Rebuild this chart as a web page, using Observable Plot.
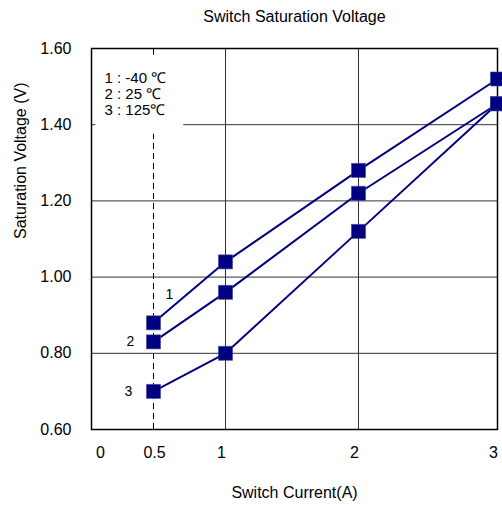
<!DOCTYPE html>
<html><head><meta charset="utf-8">
<script src="https://cdn.jsdelivr.net/npm/d3@7"></script>
<script src="https://cdn.jsdelivr.net/npm/@observablehq/plot@0.6"></script>
<style>body{margin:0;background:#fff} svg{display:block}</style>
</head><body><div id="chart"></div>
<script>
const currents = [0.5, 1, 2, 3];
const series1 = [0.88, 1.04, 1.28, 1.52];
const series2 = [0.83, 0.96, 1.22, 1.455];
const series3 = [0.70, 0.80, 1.12, 1.455];
const seriesNames = ["1", "2", "3"];
const legendLines = ["1 : -40 ℃", "2 : 25 ℃", "3 : 125℃"];
const xTicks = [0, 0.5, 1, 2, 3];
const yTicks = [0.6, 0.8, 1.0, 1.2, 1.4, 1.6];
const gridY = [0.8, 1.0, 1.2, 1.4];
const gridX = [1, 2];
const title = "Switch Saturation Voltage";
const xLabel = "Switch Current(A)";
const yLabel = "Saturation Voltage (V)";

const data = [series1, series2, series3].flatMap((vals, i) =>
  vals.map((v, j) => ({series: seriesNames[i], x: currents[j], y: v})));
const firsts = seriesNames.map(s => data.find(d => d.series === s && d.x === currents[0]));
const labelOffsets = [[16, -28], [-23, 0], [-25, 0]];
const navy = "#000080";
const grid = "#333";

// the reference's x axis is piecewise (non-uniform spacing between ticks)
const xWarp = d3.scaleLinear().domain(xTicks).range([0, 62, 134, 267, 406]);

const chart = Plot.plot({
  width: 502, height: 506,
  marginLeft: 91, marginRight: 5, marginTop: 48, marginBottom: 77,
  x: {type: "linear", domain: [0, 406], transform: xWarp, axis: null},
  y: {domain: [0.6, 1.6], axis: null},
  style: {fontFamily: "'Liberation Sans', Arial, sans-serif", fontSize: "16px", background: "white", color: "black"},
  marks: [
    Plot.ruleY(gridY, {y: d => d, x1: d => d === 1.4 ? 0.71 : 0, x2: () => 3, stroke: grid, strokeWidth: 1}),
    Plot.ruleY([1.4], {y: d => d, x1: () => 0, x2: () => 0.035, stroke: grid}),
    Plot.ruleX(gridX, {x: d => d, stroke: grid, strokeWidth: 1}),
    Plot.ruleX([0.5], {x: d => d, y1: () => 0.6, y2: () => 1.375, stroke: "black", strokeDasharray: "6,4"}),
    Plot.ruleX([0.5], {x: d => d, y1: () => 1.6, y2: () => 1.582, stroke: "black"}),
    Plot.frame({stroke: "black", strokeWidth: 1.5}),
    Plot.line(data, {x: "x", y: "y", z: "series", stroke: navy, strokeWidth: 2}),
    Plot.dot(data, {x: "x", y: "y", symbol: "square", r: 7.9, fill: navy, stroke: "#3a3aa0", strokeWidth: 0.6}),
    ...firsts.map((d, i) => Plot.text([d], {x: "x", y: "y", text: "series", dx: labelOffsets[i][0], dy: labelOffsets[i][1], fontSize: 14})),
    Plot.text([legendLines.join("\n")], {frameAnchor: "top-left", dx: 13, dy: 23, lineAnchor: "top", lineHeight: 1.07, textAnchor: "start", fontSize: 15}),
    Plot.text(yTicks, {y: d => d, frameAnchor: "left", dx: -20, textAnchor: "end", lineAnchor: "middle", text: d => d.toFixed(2), fontSize: 16}),
    Plot.text(xTicks.filter(d => d === 0), {x: d => d, frameAnchor: "bottom", lineAnchor: "middle", dy: 23, dx: 9, text: d => String(d), fontSize: 16}),
    Plot.text(xTicks.filter(d => d === 0.5), {x: d => d, frameAnchor: "bottom", lineAnchor: "middle", dy: 23, dx: 1, text: d => String(d), fontSize: 16}),
    Plot.text(xTicks.filter(d => d >= 1), {x: d => d, frameAnchor: "bottom", lineAnchor: "middle", dy: 23, dx: -4, text: d => String(d), fontSize: 16}),
    Plot.text([title], {frameAnchor: "top", lineAnchor: "middle", dy: -32, text: d => d, fontSize: 16}),
    Plot.text([xLabel], {frameAnchor: "bottom", lineAnchor: "middle", dy: 63, text: d => d, fontSize: 16}),
    Plot.text([yLabel], {frameAnchor: "left", lineAnchor: "middle", dx: -71, rotate: -90, text: d => d, fontSize: 16})
  ]
});
document.getElementById("chart").appendChild(chart);
</script>
</body></html>
